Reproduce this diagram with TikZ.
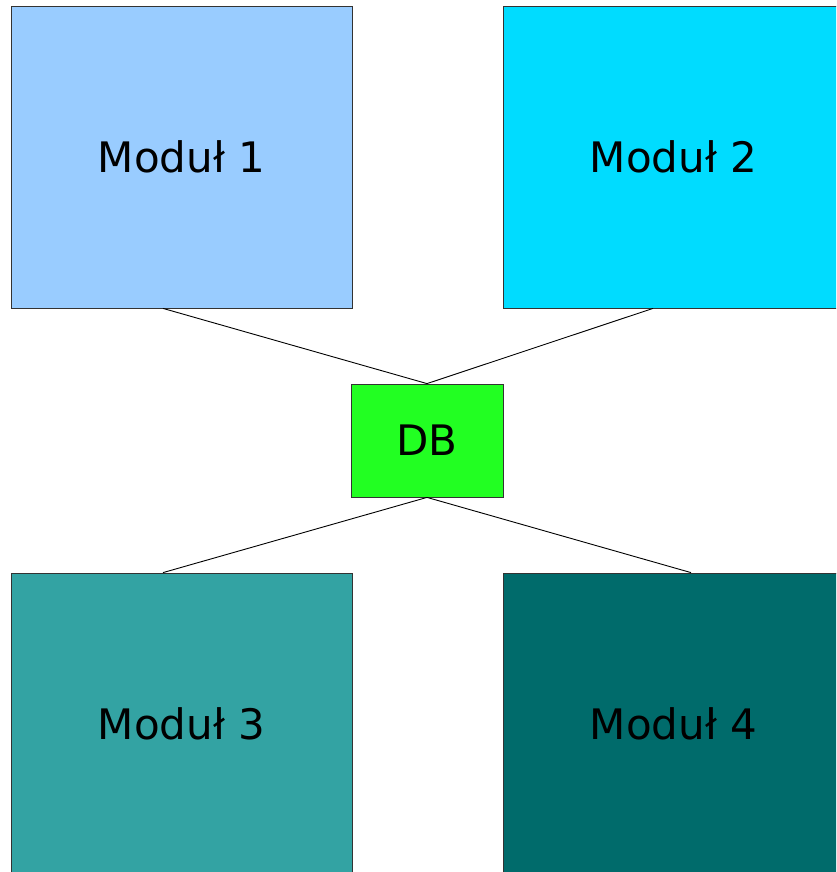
\documentclass[tikz,border=0pt]{standalone}
\usepackage{fontspec}
\setmainfont{DejaVu Sans}
\definecolor{modA}{RGB}{153,204,255}
\definecolor{modB}{RGB}{0,220,255}
\definecolor{modC}{RGB}{51,163,163}
\definecolor{modD}{RGB}{0,107,107}
\definecolor{dbgreen}{RGB}{34,255,34}
\begin{document}
\begin{tikzpicture}[x=1pt,y=-1pt,
  modbox/.style={draw=black!80,line width=0.8pt,minimum width=341pt,minimum height=302pt,inner sep=0pt,font=\fontsize{42}{50}\selectfont},
  dbbox/.style={draw=black!80,line width=0.8pt,minimum width=152pt,minimum height=113pt,inner sep=0pt,fill=dbgreen,font=\fontsize{42}{50}\selectfont},
  link/.style={draw=black,line width=0.9pt}]
  \useasboundingbox (0,0) rectangle (836,872);
  \clip (0,0) rectangle (836,872);
  \fill[white] (0,0) rectangle (836,872);
  % modules
  \node[modbox,fill=modA] (m1) at (181.5,157) {Moduł 1};
  \node[modbox,fill=modB] (m2) at (673.5,157) {Moduł 2};
  \node[modbox,fill=modC] (m3) at (181.5,724) {Moduł 3};
  \node[modbox,fill=modD] (m4) at (673.5,724) {Moduł 4};
  % database
  \node[dbbox] (db) at (427,440.5) {DB};
  % connectors
  \draw[link] ([xshift=-18.5pt]m1.south) -- (db.north);
  \draw[link] ([xshift=-20.5pt]m2.south) -- (db.north);
  \draw[link] (db.south) -- ([xshift=-18.5pt]m3.north);
  \draw[link] (db.south) -- ([xshift=17.5pt]m4.north);
\end{tikzpicture}
\end{document}
